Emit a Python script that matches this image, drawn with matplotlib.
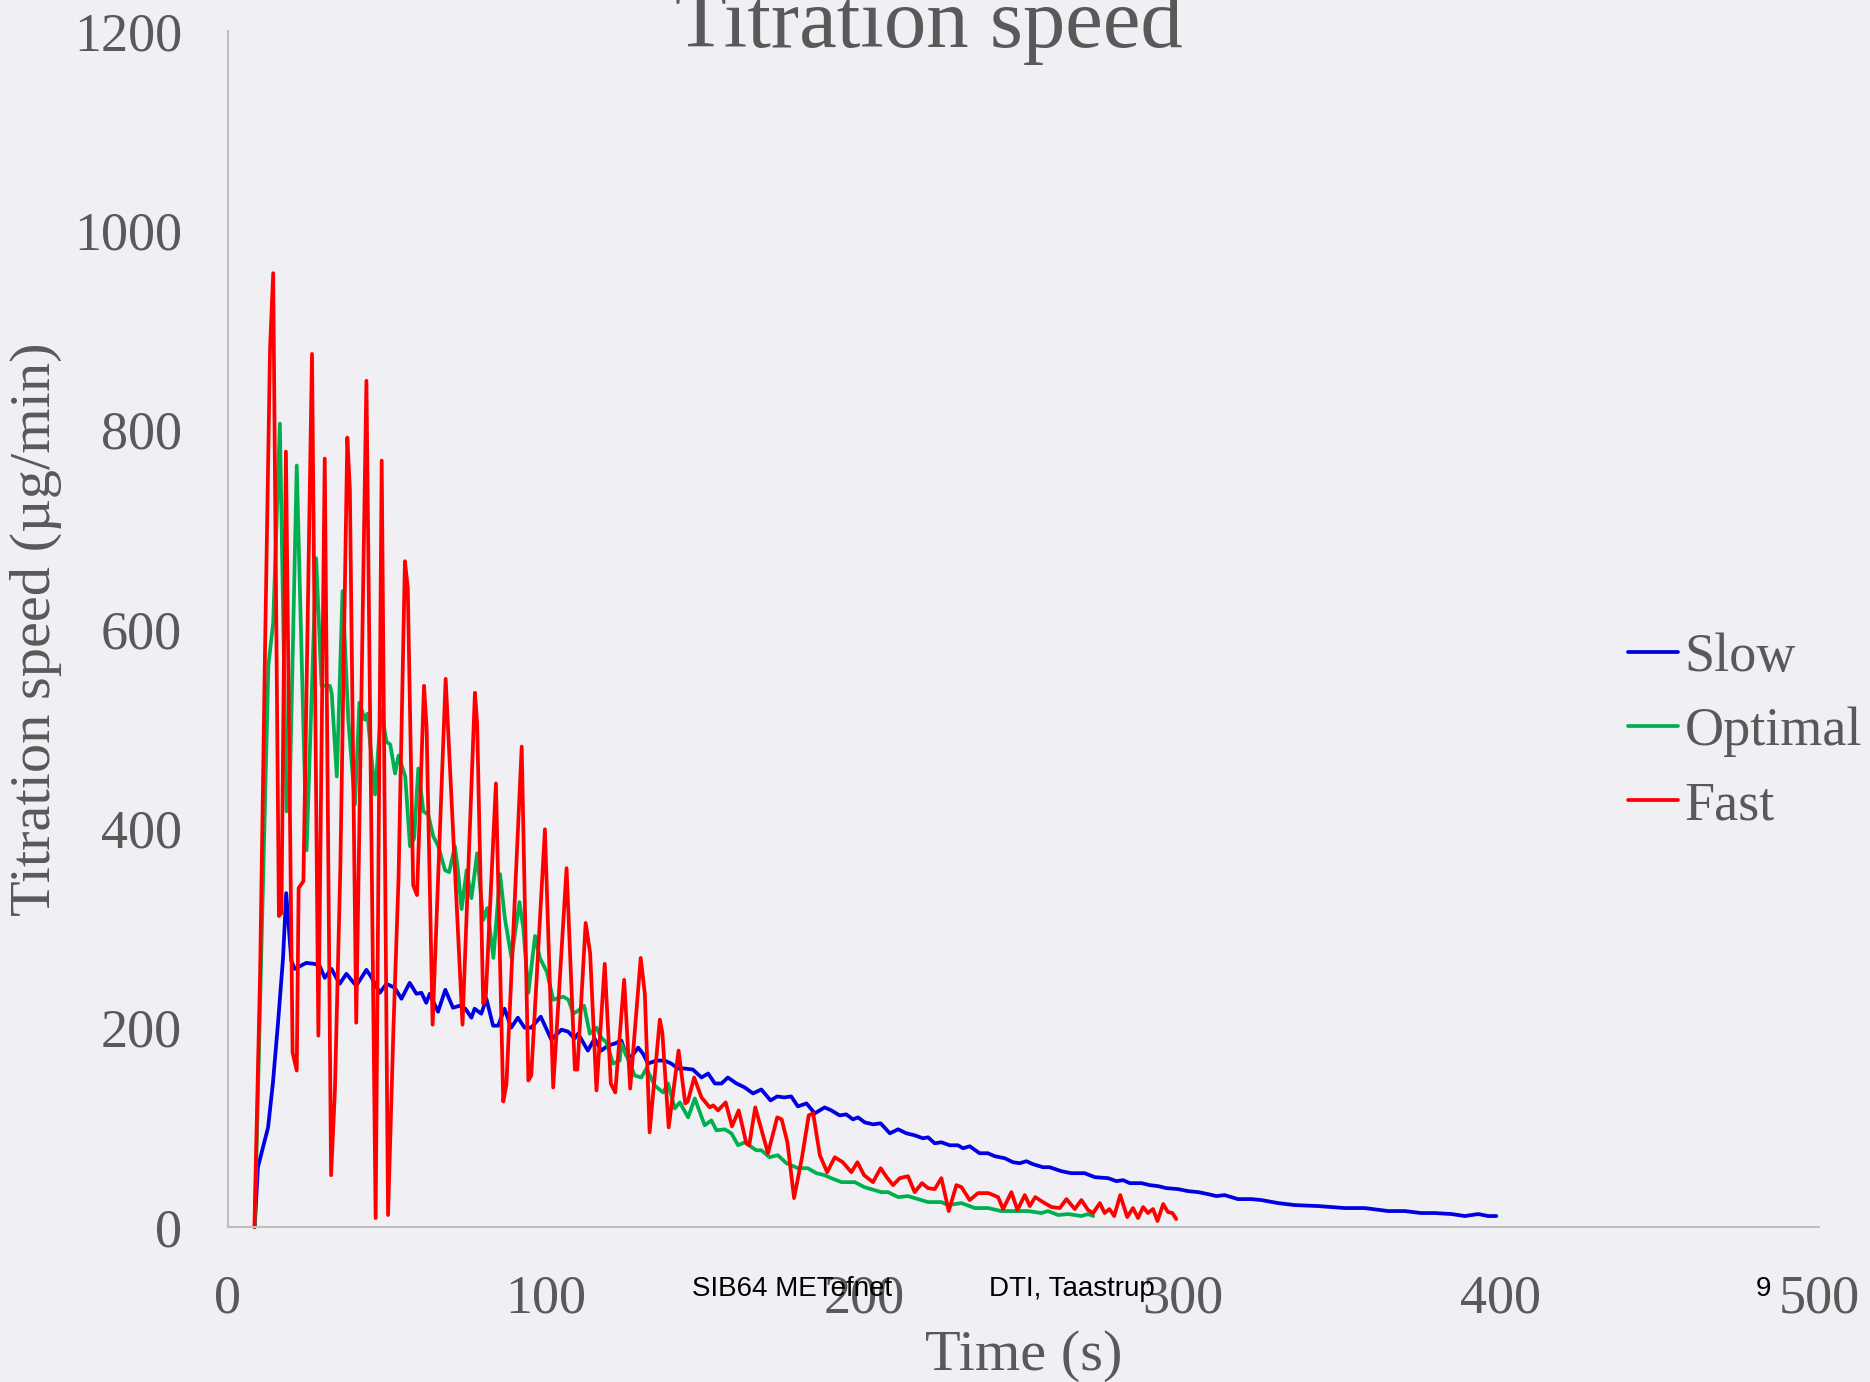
import numpy as np
import matplotlib as mpl
import matplotlib.pyplot as plt

#readings (time [s], titration speed [ug/min]) for each run
slow = [(8.4, 0), (9.4, 60), (11.0, 80), (12.6, 100), (14.1, 144), (15.7, 204), (17.3, 270),
        (18.3, 335), (19.9, 267), (21.0, 259), (22.8, 262), (24.6, 265), (27.2, 264), (28.8, 262),
        (30.4, 250), (32.5, 259), (35.1, 244), (37.2, 254), (40.3, 242), (43.5, 258), (45.0, 251),
        (47.7, 235), (49.8, 244), (52.4, 240), (54.5, 229), (57.1, 245), (59.2, 234), (60.8, 235),
        (62.3, 225), (63.4, 234), (66.0, 216), (68.3, 238), (70.7, 220), (72.8, 222), (74.6, 219),
        (76.5, 210), (77.5, 219), (79.6, 214), (81.2, 229), (83.3, 202), (84.9, 202), (86.9, 219),
        (89.0, 200), (91.1, 210), (93.2, 200), (95.3, 200), (98.3, 211), (101.6, 188), (104.8, 198),
        (106.9, 196), (108.9, 189), (110.0, 194), (113.1, 177), (115.2, 189), (117.3, 177),
        (119.4, 182), (121.5, 184), (123.6, 187), (125.2, 172), (126.8, 171), (128.9, 180),
        (130.4, 174), (132.0, 164), (134.6, 167), (137.2, 167), (139.3, 164), (141.4, 159),
        (143.5, 159), (146.1, 158), (148.8, 150), (150.9, 154), (153.0, 144), (155.1, 144),
        (157.1, 150), (159.8, 144), (162.4, 140), (165.0, 134), (167.6, 138), (170.5, 127),
        (172.6, 131), (174.8, 130), (177.0, 131), (179.1, 121), (181.8, 124), (184.4, 114),
        (187.5, 120), (189.6, 117), (192.2, 112), (194.3, 113), (196.4, 108), (198.0, 110),
        (200.1, 105), (202.7, 103), (205.1, 104), (208.0, 94), (210.6, 98), (213.2, 94),
        (215.8, 92), (218.4, 89), (220.0, 90), (222.1, 84), (224.2, 85), (226.8, 82), (229.4, 82),
        (231.0, 79), (233.1, 81), (236.2, 74), (238.8, 74), (241.0, 71), (244.1, 69), (246.7, 65),
        (248.8, 64), (250.9, 66), (253.0, 63), (256.1, 60), (258.2, 60), (261.9, 56), (265.0, 54),
        (269.2, 54), (272.4, 50), (276.6, 49), (279.2, 46), (281.3, 47), (283.4, 44), (287.1, 44),
        (289.7, 42), (292.3, 41), (294.9, 39), (298.6, 38), (301.7, 36), (304.9, 35), (308.0, 33),
        (310.6, 31), (313.2, 32), (317.4, 28), (321.6, 28), (324.8, 27), (330.0, 24), (335.2, 22),
        (342.6, 21), (346.8, 20), (351.0, 19), (357.2, 19), (364.6, 16), (369.8, 16), (375.0, 14),
        (379.2, 14), (384.5, 13), (388.7, 11), (392.9, 13), (396.0, 11), (398.6, 11)]

optimal = [(8.4, 0), (10.5, 280), (12.7, 564), (14.2, 606), (16.3, 806), (18.4, 417), (19.3, 420),
           (21.6, 764), (24.7, 378), (27.7, 671), (29.4, 543), (32.0, 543), (32.6, 535), (34.2, 452),
           (36.0, 638), (37.8, 509), (39.9, 424), (41.3, 526), (43.0, 509), (43.8, 515), (46.2, 434),
           (48.1, 519), (49.8, 487), (51.0, 484), (52.5, 455), (53.6, 473), (55.7, 452), (57.2, 382),
           (58.5, 390), (59.8, 460), (61.4, 417), (62.9, 414), (64.5, 392), (66.1, 382), (68.2, 358),
           (69.5, 356), (71.3, 382), (72.2, 360), (73.4, 319), (75.0, 358), (76.5, 330), (78.3, 375),
           (80.2, 308), (81.5, 320), (83.4, 270), (85.5, 354), (87.0, 310), (89.1, 270), (91.6, 326),
           (92.8, 300), (94.4, 235), (96.5, 292), (98.0, 270), (100.2, 256), (102.2, 228),
           (104.0, 230), (105.4, 231), (107.0, 228), (108.5, 214), (110.0, 217), (111.9, 222),
           (113.7, 194), (115.8, 200), (117.3, 190), (119.0, 185), (121.0, 164), (123.1, 167),
           (123.6, 184), (125.5, 170), (127.8, 152), (129.9, 150), (131.5, 159), (134.1, 142),
           (136.7, 135), (138.3, 144), (140.4, 119), (142.0, 125), (144.6, 110), (146.7, 129),
           (149.8, 102), (151.9, 107), (153.5, 97), (156.1, 98), (158.2, 94), (160.3, 82),
           (162.4, 85), (166.0, 77), (167.6, 77), (170.2, 70), (172.8, 72), (175.5, 64), (179.1, 59),
           (182.2, 59), (184.9, 54), (187.5, 52), (189.6, 49), (192.8, 45), (197.0, 45), (200.0, 40),
           (202.1, 38), (205.3, 35), (207.4, 35), (210.6, 30), (213.7, 31), (215.8, 29), (217.9, 27),
           (220.0, 25), (224.2, 25), (226.3, 22), (230.5, 24), (234.7, 19), (238.9, 19), (243.0, 16),
           (247.2, 16), (251.4, 16), (255.6, 14), (257.7, 16), (260.9, 12), (264.0, 13), (268.2, 11),
           (270.3, 13), (271.9, 11)]

fast = [(8.3, 0), (10.1, 256), (11.6, 571), (13.2, 880), (14.2, 957), (16.0, 312), (16.8, 315),
        (18.2, 778), (20.3, 175), (21.6, 157), (22.2, 340), (23.7, 347), (26.4, 876), (28.4, 192),
        (30.4, 771), (32.4, 52), (33.6, 137), (35.3, 360), (37.5, 792), (38.3, 740), (40.3, 205),
        (43.5, 849), (46.4, 9), (48.3, 769), (50.3, 12), (52.0, 200), (53.6, 350), (55.6, 668),
        (56.5, 641), (58.2, 343), (59.4, 333), (61.6, 543), (62.4, 502), (64.3, 203), (68.4, 550),
        (73.7, 203), (77.6, 536), (78.3, 505), (80.2, 224), (81.0, 230), (84.2, 445), (86.5, 126),
        (87.5, 143), (92.3, 482), (94.4, 147), (95.3, 152), (99.6, 399), (102.2, 140), (106.4, 360),
        (109.0, 158), (109.8, 158), (112.4, 305), (113.8, 275), (115.8, 137), (118.4, 264),
        (120.3, 144), (121.7, 135), (124.5, 248), (126.4, 139), (129.7, 270), (131.0, 234),
        (132.5, 95), (135.7, 208), (136.5, 195), (138.5, 100), (141.6, 177), (143.7, 124),
        (144.5, 126), (146.5, 150), (148.8, 130), (151.4, 120), (152.5, 122), (154.0, 117),
        (156.4, 125), (158.4, 101), (160.5, 117), (162.9, 84), (163.8, 82), (165.7, 120),
        (169.7, 74), (172.6, 110), (174.0, 108), (175.8, 85), (177.9, 29), (180.4, 70), (182.5, 112),
        (183.9, 114), (186.0, 72), (188.3, 55), (190.7, 70), (193.2, 65), (195.9, 55), (197.8, 65),
        (199.9, 52), (202.7, 45), (205.1, 59), (207.0, 50), (209.0, 42), (211.1, 49), (213.7, 51),
        (215.8, 35), (218.1, 44), (220.0, 39), (222.1, 38), (224.2, 49), (226.5, 16), (228.9, 42),
        (230.5, 40), (233.1, 27), (235.7, 34), (239.0, 34), (242.0, 30), (243.6, 18), (246.2, 35),
        (248.1, 17), (250.4, 32), (252.0, 21), (253.7, 30), (256.1, 25), (258.8, 20), (261.4, 19),
        (263.5, 28), (266.1, 18), (268.2, 27), (270.3, 17), (271.9, 14), (274.0, 24), (275.5, 14),
        (277.0, 18), (278.5, 11), (280.4, 32), (282.6, 10), (284.4, 19), (286.0, 9), (287.6, 20),
        (289.1, 14), (290.7, 18), (292.1, 6), (293.9, 23), (295.4, 15), (296.8, 14), (298.0, 8)]

series_names = ['Slow', 'Optimal', 'Fast']
series_colors = ['#0000E0', '#00B050', '#FF0000']

x_ticks = [0, 100, 200, 300, 400, 500]
y_ticks = [0, 200, 400, 600, 800, 1000, 1200]

footer_texts = ['SIB64 METefnet', 'DTI, Taastrup', '9']


def main():

    #figure geometry, in pixels
    picW = 1870.
    picH = 1382.
    dpi = 100.
    axL, axR = 228., 1819.
    axT, axB = 31., 1227.

    grey = '#595959'
    bg = '#F0EFF4'
    serif = ['Liberation Serif', 'DejaVu Serif']

    mpl.rcParams['font.family'] = serif

    fig = plt.figure(figsize=(picW/dpi, picH/dpi), dpi=dpi, facecolor=bg)
    ax = fig.add_axes([axL/picW, 1.-axB/picH, (axR-axL)/picW, (axB-axT)/picH])
    ax.set_facecolor(bg)

    for data, name, col in zip([slow, optimal, fast], series_names, series_colors):
        t, v = zip(*data)
        ax.plot(t, v, color=col, linewidth=2.7, label=name,
                solid_joinstyle='round', solid_capstyle='round', clip_on=False)

    ax.set_xlim(x_ticks[0], x_ticks[-1])
    ax.set_ylim(y_ticks[0], y_ticks[-1])
    ax.set_xticks(x_ticks)
    ax.set_yticks(y_ticks)
    ax.tick_params(length=0, labelsize=39, labelcolor=grey)
    ax.tick_params(axis='x', pad=34)
    ax.tick_params(axis='y', pad=33)

    for side in ['top', 'right']:
        ax.spines[side].set_visible(False)
    for side in ['left', 'bottom']:
        ax.spines[side].set_color('#BFBFBF')
        ax.spines[side].set_linewidth(1.5)

    #axis labels
    fig.text((axL+axR)/2./picW, 1.-1356./picH, 'Time (s)', fontsize=42, color=grey,
             ha='center', va='center')
    fig.text(36./picW, 1.-(axT+axB)/2./picH, 'Titration speed (µg/min)', fontsize=42,
             color=grey, rotation=90, ha='center', va='center')

    #title, partly cut by the top of the figure
    fig.text(0.4965, 1.-47./picH, 'Titration speed', fontsize=61, color=grey,
             ha='center', va='baseline')

    #legend
    leg = ax.legend(loc='upper left', bbox_to_anchor=(1628./picW, 1.-632./picH),
                    bbox_transform=fig.transFigure, frameon=False, fontsize=39,
                    handlelength=0.93, handletextpad=0.12, labelspacing=0.44,
                    borderpad=0., borderaxespad=0.)
    for txt in leg.get_texts():
        txt.set_color(grey)

    #page footer that got into the picture
    footer_x = [692., 989., 1756.]
    for txt, xx in zip(footer_texts, footer_x):
        fig.text(xx/picW, 1.-1296./picH, txt, fontsize=20, color='black',
                 family='Liberation Sans', ha='left', va='baseline')

    plt.savefig('out.png', dpi=dpi, facecolor=bg)


if __name__ == '__main__':
    main()
